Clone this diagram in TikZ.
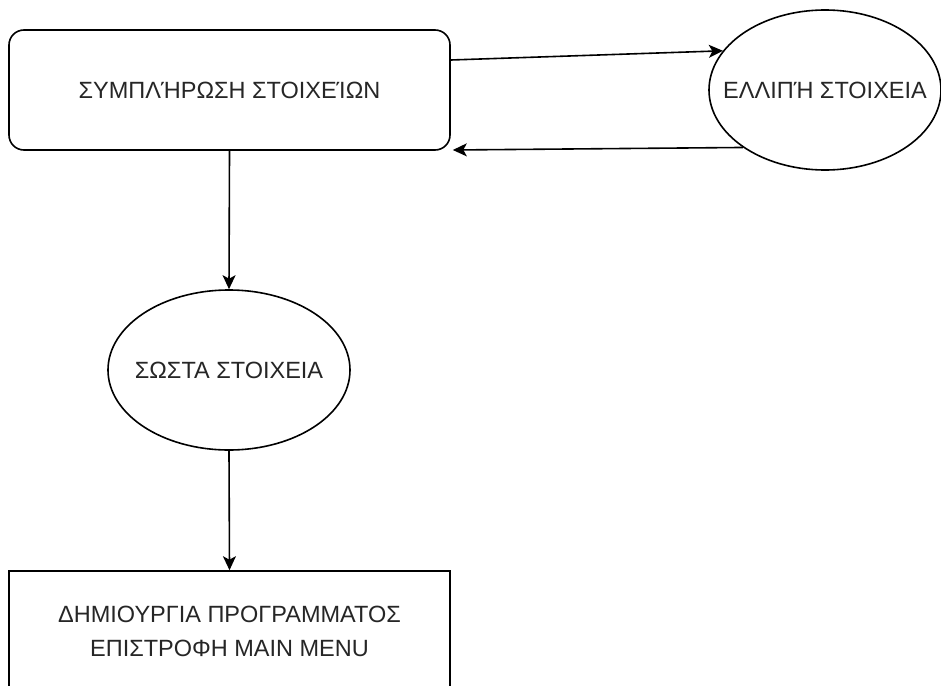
\documentclass[tikz,border=0pt]{standalone}
\usepackage{fontspec}
\setmainfont{Liberation Sans}
\usetikzlibrary{shapes.geometric,arrows.meta}
\begin{document}
\begin{tikzpicture}[x=1pt,y=-1pt,
  txt/.style={font=\fontsize{23.5}{34}\selectfont, text=black!85, align=center},
  box/.style={draw, txt, line width=1.6pt, minimum width=441pt, minimum height=120pt, inner sep=0pt},
  roundbox/.style={box, rounded corners=15pt},
  oval/.style={draw, ellipse, line width=1.6pt, inner sep=0pt},
  arr/.style={line width=1.6pt, -{Stealth[length=14pt,width=13pt,inset=3.5pt]}}]
\clip (0,0) rectangle (941,685);
\node[roundbox] (fill) at (229.5,90) {ΣΥΜΠΛΉΡΩΣΗ ΣΤΟΙΧΕΊΩΝ};
\node[oval, minimum width=232pt, minimum height=160pt] (missing) at (825,90) {};
\node[txt] (missinglabel) at (missing.center) {ΕΛΛΙΠΉ ΣΤΟΙΧΕΙΑ};
\node[oval, minimum width=242pt, minimum height=160pt] (correct) at (229,370) {};
\node[txt] (correctlabel) at (correct.center) {ΣΩΣΤΑ ΣΤΟΙΧΕΙΑ};
\node[box] (create) at (229.5,631) {ΔΗΜΙΟΥΡΓΙΑ ΠΡΟΓΡΑΜΜΑΤΟΣ\\ΕΠΙΣΤΡΟΦΗ MAIN MENU};
\draw[arr] ([yshift=30pt]fill.east) -- (missing.159);
\draw[arr] (missing.215) -- ([xshift=2pt,yshift=-60pt]fill.east);
\draw[arr] (fill.south) -- (correct.north);
\draw[arr] (correct.south) -- (create.north);
\end{tikzpicture}
\end{document}
